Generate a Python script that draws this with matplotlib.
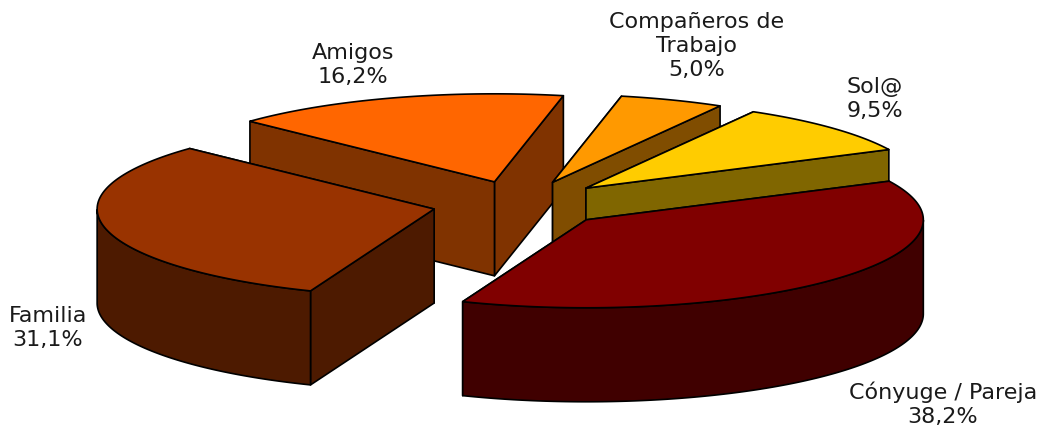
import numpy as np
import matplotlib
matplotlib.use("Agg")
import matplotlib.pyplot as plt
from matplotlib.patches import Polygon

# data, in drawing order of the pie (clockwise from the start angle)
categories = ["Cónyuge / Pareja", "Familia", "Amigos", "Compañeros de\nTrabajo", "Sol@"]
shares = [38.2, 31.1, 16.2, 5.0, 9.5]
top_colors = ["#800000", "#993300", "#FF6600", "#FF9900", "#FFCC00"]
side_colors = ["#400000", "#4D1A00", "#803300", "#804D00", "#806600"]

# pie geometry in pixels
CX, CY = 521, 204
RX, RY = 337, 88
DEPTH = 94
EXPLODE = 0.264
START = 26.0

# where the labels sit, same order as categories
label_pos = [(943, 404), (48, 328), (353, 65), (697, 46), (875, 99)]

fig = plt.figure(figsize=(10.46, 4.32), dpi=100)
ax = fig.add_axes([0, 0, 1, 1])
ax.set_xlim(0, 1046)
ax.set_ylim(432, 0)
ax.axis("off")


def pt(apex, deg):
    a = np.radians(deg)
    return apex[0] + RX * np.cos(a), apex[1] - RY * np.sin(a)


def face(pts, color):
    ax.add_patch(Polygon(pts, closed=True, facecolor=color, edgecolor="black",
                         linewidth=1.2, joinstyle="round"))


def draw_slice(i, a1, a0):
    # a1 is the start (higher) angle, a0 the end of the clockwise sweep
    mid = np.radians((a0 + a1) / 2)
    apex = (CX + EXPLODE * RX * np.cos(mid), CY - EXPLODE * RY * np.sin(mid))
    angles = np.linspace(a1, a0, 200)
    arc = [pt(apex, d) for d in angles]

    # cut faces, the one further back first
    for d in sorted((a1, a0), key=lambda d: pt(apex, d)[1]):
        p = pt(apex, d)
        face([apex, p, (p[0], p[1] + DEPTH), (apex[0], apex[1] + DEPTH)], side_colors[i])

    # outer rim, only the part facing the viewer
    front = [d for d in angles if np.sin(np.radians(d)) < 0]
    if front:
        upper = [pt(apex, d) for d in front]
        lower = [(x, y + DEPTH) for x, y in upper]
        face(upper + lower[::-1], side_colors[i])

    # top
    face([apex] + arc, top_colors[i])


# sweep angles of every slice
sweeps = np.array(shares) / sum(shares) * 360
ends = START - np.cumsum(sweeps)
starts = ends + sweeps

# back slices first
for i in [2, 3, 4, 1, 0]:
    draw_slice(i, starts[i], ends[i])

for i, cat in enumerate(categories):
    txt = cat + "\n" + f"{shares[i]:.1f}%".replace(".", ",")
    ax.text(label_pos[i][0], label_pos[i][1], txt, ha="center", va="center",
            fontsize=16, color="#1a1a1a", linespacing=1.25, family="DejaVu Sans")

fig.savefig("out.png", dpi=100, facecolor="white")
